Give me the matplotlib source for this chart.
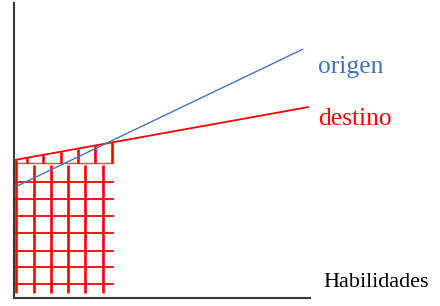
import numpy as np
import matplotlib
matplotlib.use("Agg")
import matplotlib.pyplot as plt

# Datos (unidades del eje: 0..10)
origen_x = [0.03, 9.75]
origen_y = [3.76, 8.43]
destino_x = [0.03, 9.93]
destino_y = [4.68, 6.47]

# Cuadrícula roja bajo la recta de destino
grid_vx = [0.07, 0.68, 1.25, 1.82, 2.40, 3.01]
grid_hy = [4.58, 3.93, 3.36, 2.78, 2.20, 1.59, 1.05, 0.47]
tick_x = [0.44, 0.98, 1.59, 2.16, 2.74, 3.31]
grid_bottom = 0.17
grid_top = 4.51
grid_right = 3.34

label_origen = "origen"
label_destino = "destino"
label_x = "Habilidades"

RED = "#ff0000"
BLUE = "#4472c4"

fig = plt.figure(figsize=(4.4, 3.06), dpi=100)
ax = fig.add_axes([14 / 440, 8 / 306, 296 / 440, 295 / 306])
ax.set_xlim(0, 10)
ax.set_ylim(0, 10)
ax.set_xticks([])
ax.set_yticks([])
for s in ["top", "right"]:
    ax.spines[s].set_visible(False)
for s in ["left", "bottom"]:
    ax.spines[s].set_color("#3a3a3a")
    ax.spines[s].set_linewidth(1.5)

# cuadrícula
for i, x in enumerate(grid_vx):
    top = np.interp(x, destino_x, destino_y) if i == 0 else grid_top
    ax.plot([x, x], [grid_bottom, top], color=RED, lw=1.9, solid_capstyle="butt")
for i, y in enumerate(grid_hy):
    ax.plot([grid_vx[0], grid_right], [y, y], color=RED,
            lw=1.0 if i == 0 else 1.3, alpha=0.75 if i == 0 else 1.0)
for x in tick_x:
    ax.plot([x, x], [grid_hy[0], np.interp(x, destino_x, destino_y)],
            color=RED, lw=1.9, solid_capstyle="butt")

# rectas
ax.plot(destino_x, destino_y, color=RED, lw=1.3)
ax.plot(origen_x, origen_y, color=BLUE, lw=1.0)

serif = ["Liberation Serif", "DejaVu Serif"]
ax.text(10.27, 7.63, label_origen, color=BLUE, fontsize=18.4, family=serif,
        va="baseline", ha="left", clip_on=False)
ax.text(10.27, 5.86, label_destino, color=RED, fontsize=18.4, family=serif,
        va="baseline", ha="left", clip_on=False)
ax.text(10.44, 0.37, label_x, color="black", fontsize=15.9, family=serif,
        va="baseline", ha="left", clip_on=False)

fig.savefig("out.png", dpi=100)
